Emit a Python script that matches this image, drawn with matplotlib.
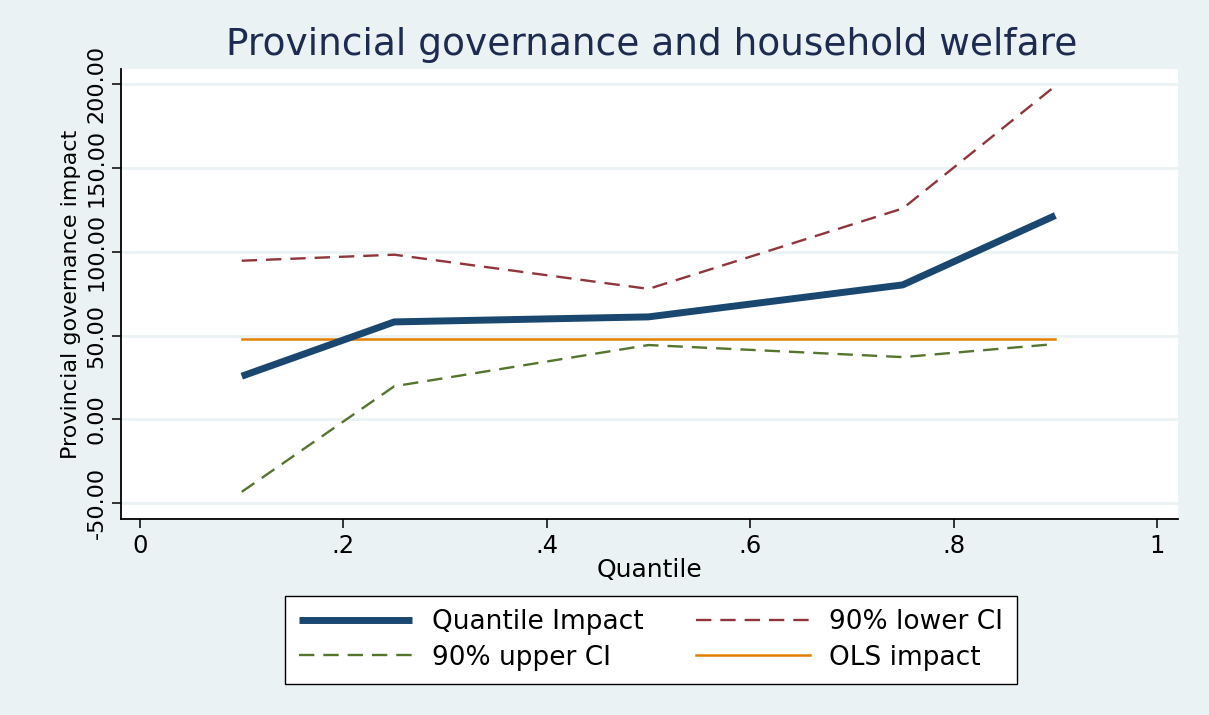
import matplotlib
matplotlib.use("Agg")
import matplotlib.pyplot as plt

# values
quantiles = [0.1, 0.25, 0.5, 0.75, 0.9]
quantile_impact = [25.8, 58.2, 61.2, 80.3, 121.7]
lower_ci = [94.7, 98.3, 77.9, 125.9, 199.0]
upper_ci = [-43.2, 19.8, 44.4, 37.2, 45.0]
ols_impact = [48.0, 48.0, 48.0, 48.0, 48.0]

y_ticks = [-50, 0, 50, 100, 150, 200]
x_ticks = [0, 0.2, 0.4, 0.6, 0.8, 1.0]
x_tick_labels = ["0", ".2", ".4", ".6", ".8", "1"]

bg = "#eaf2f3"
navy = "#1a476f"
maroon = "#90353b"
green = "#55752f"
orange = "#e37e00"

plt.rcParams["font.family"] = ["DejaVu Sans"]

fig = plt.figure(figsize=(12.09, 7.15), dpi=100, facecolor=bg)
ax = fig.add_axes([121 / 1209, 1 - 519 / 715, (1178 - 121) / 1209, (519 - 69) / 715])
ax.set_facecolor("white")

l_qi, = ax.plot(quantiles, quantile_impact, color=navy, lw=5, solid_capstyle="butt",
                label="Quantile Impact", zorder=4)
l_lo, = ax.plot(quantiles, lower_ci, color=maroon, lw=1.7, dashes=(6.5, 3.8),
                label="90% lower CI", zorder=3)
l_up, = ax.plot(quantiles, upper_ci, color=green, lw=1.7, dashes=(6.5, 3.8),
                label="90% upper CI", zorder=3)
l_ols, = ax.plot(quantiles, ols_impact, color=orange, lw=1.8, label="OLS impact", zorder=3)

ax.set_xlim(-0.0187, 1.0206)
ax.set_ylim(-59.4, 209.1)
ax.set_xticks(x_ticks)
ax.set_xticklabels(x_tick_labels)
ax.set_yticks(y_ticks)
ax.set_yticklabels([f"{v:.2f}" for v in y_ticks], rotation=90, va="center")

ax.grid(axis="y", color=bg, lw=2)
ax.set_axisbelow(True)
for side in ["top", "right"]:
    ax.spines[side].set_visible(False)
for side in ["left", "bottom"]:
    ax.spines[side].set_linewidth(1.3)
ax.tick_params(axis="both", length=6.5, width=1.1, labelsize=16, pad=4)
ax.tick_params(axis="x", labelsize=17.5)

ax.set_xlabel("Quantile", fontsize=18, labelpad=0)
ax.set_ylabel("Provincial governance impact", fontsize=16, labelpad=4)

fig.text(652 / 1209, 1 - 45 / 715, "Provincial governance and household welfare",
         ha="center", va="center", fontsize=27, color="#1e2b50")

# row-wise order like the reference: matplotlib fills legend columns first
leg = fig.legend([l_qi, l_up, l_lo, l_ols],
                 ["Quantile Impact", "90% upper CI", "90% lower CI", "OLS impact"],
                 loc="center", bbox_to_anchor=(651 / 1209, 1 - 640 / 715),
                 ncol=2, fontsize=19, frameon=True, fancybox=False,
                 edgecolor="black", framealpha=1, handlelength=4.3,
                 handletextpad=0.75, columnspacing=2.0, labelspacing=0.35,
                 borderpad=0.5)
leg.get_frame().set_linewidth(1.0)

fig.savefig("out.png", dpi=100, facecolor=bg)
